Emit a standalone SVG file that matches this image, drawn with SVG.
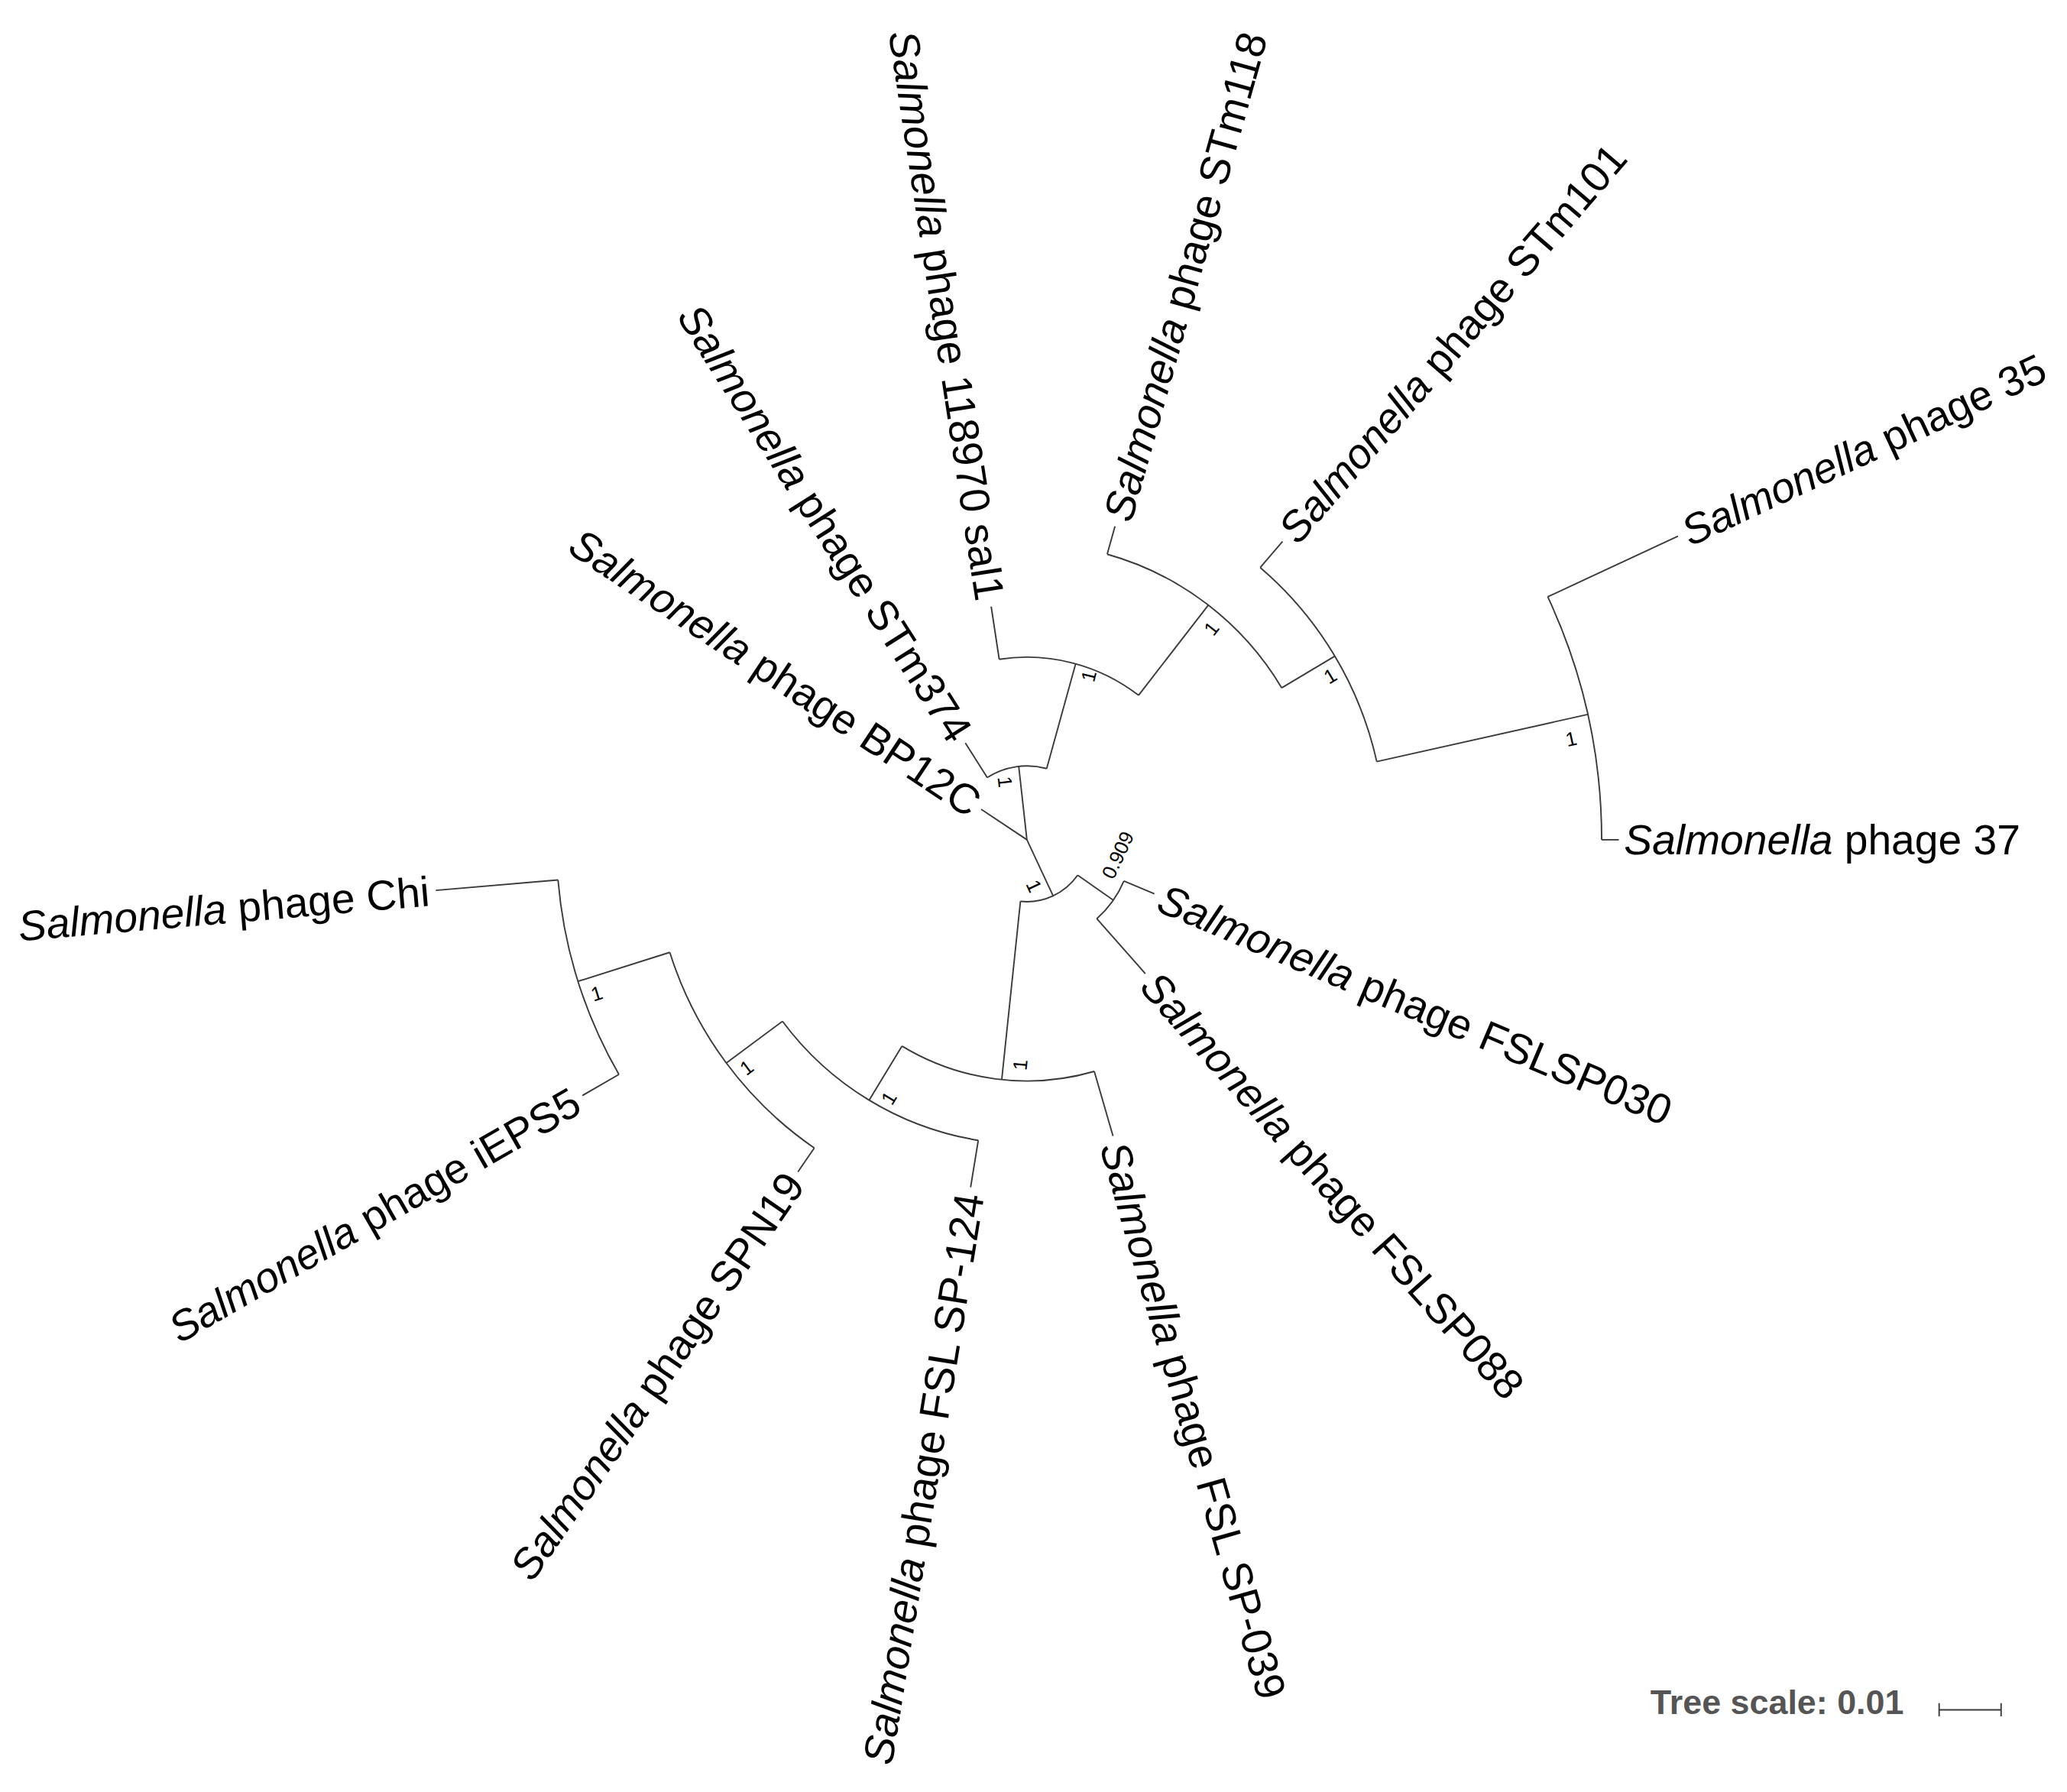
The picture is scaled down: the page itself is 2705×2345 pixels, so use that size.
<svg xmlns="http://www.w3.org/2000/svg" width="2705" height="2345" viewBox="0 0 2705 2345">
<style>
.br{fill:none;stroke:#3a3a3a;stroke-width:1.1}
.lb{font-family:"Liberation Sans",Arial,sans-serif;font-size:32px;fill:#000}
.it{font-style:italic}
.bs{font-family:"Liberation Sans",Arial,sans-serif;font-size:15px;fill:#000}
.sc{font-family:"Liberation Sans",Arial,sans-serif;font-size:26px;font-weight:bold;fill:#555}
</style>
<rect width="2705" height="2345" fill="#fff"/>
<g transform="scale(1.72513)">
<g id="connectors">
<path class="br" d="M817.5,663.9 A47,47 0 0 1 774.1,683.7"/>
<path class="br" d="M798.9,679.6 L779,637"/>
<path class="br" d="M779,637 L772.8,581.3"/>
<path class="br" d="M779,637 L744.3,613.9"/>
<path class="br" d="M748.9,589.8 A56,56 0 0 1 794.0,583.0"/>
<path class="br" d="M748.9,589.8 L732.3,563.6"/>
<path class="br" d="M794.0,583.0 L816.0,503.5"/>
<path class="br" d="M758.0,500.1 A138.5,138.5 0 0 1 863.7,527.4"/>
<path class="br" d="M758.0,500.1 L751.9,460.1"/>
<path class="br" d="M863.7,527.4 L916.6,459.0"/>
<path class="br" d="M839.9,420.4 A225,225 0 0 1 972.3,521.8"/>
<path class="br" d="M839.9,420.4 L845.8,399.2"/>
<path class="br" d="M972.3,521.8 L1012.6,497.7"/>
<path class="br" d="M956.0,430.5 A272,272 0 0 1 1044.4,577.7"/>
<path class="br" d="M956.0,430.5 L972.9,410.7"/>
<path class="br" d="M1044.4,577.7 L1204.5,541.9"/>
<path class="br" d="M1174.1,452.7 A436,436 0 0 1 1215,637"/>
<path class="br" d="M1174.1,452.7 L1272.9,406.7"/>
<path class="br" d="M1215,637 L1228,637"/>
<path class="br" d="M817.5,663.9 L844.6,682.8"/>
<path class="br" d="M852.6,668.3 A80,80 0 0 1 832.0,696.9"/>
<path class="br" d="M852.6,668.3 L875.7,678"/>
<path class="br" d="M832.0,696.9 L868.8,738.5"/>
<path class="br" d="M774.1,683.7 L759.9,819.0"/>
<path class="br" d="M830.1,812.7 A183,183 0 0 1 684.2,793.5"/>
<path class="br" d="M830.1,812.7 L844.3,861.7"/>
<path class="br" d="M684.2,793.5 L659.3,834.6"/>
<path class="br" d="M742.1,865.0 A231,231 0 0 1 593.6,774.7"/>
<path class="br" d="M742.1,865.0 L736.3,900.6"/>
<path class="br" d="M593.6,774.7 L551.0,806.3"/>
<path class="br" d="M617.7,870.8 A284,284 0 0 1 508.1,722.4"/>
<path class="br" d="M617.7,870.8 L605.3,888.9"/>
<path class="br" d="M508.1,722.4 L438.5,744.4"/>
<path class="br" d="M469.5,815.0 A357,357 0 0 1 423.3,667.5"/>
<path class="br" d="M469.5,815.0 L441.8,831.0"/>
<path class="br" d="M423.3,667.5 L330.6,675.4"/>
</g>
<g id="support">
<text class="bs" text-anchor="middle" dy="0.35em" transform="translate(825.9,512.7) rotate(-76)">1</text>
<text class="bs" text-anchor="middle" dy="0.35em" transform="translate(919,476.6) rotate(-52)">1</text>
<text class="bs" text-anchor="middle" dy="0.35em" transform="translate(1009.1,512.7) rotate(-31)">1</text>
<text class="bs" text-anchor="middle" dy="0.35em" transform="translate(1191.8,560.4) rotate(-12.5)">1</text>
<text class="bs" text-anchor="middle" dy="0.35em" transform="translate(762.5,593.1) rotate(83.6)">1</text>
<text class="bs" text-anchor="middle" dy="0.35em" transform="translate(784.5,672.1) rotate(65)">1</text>
<text class="bs" text-anchor="middle" dy="0.35em" transform="translate(847.9,648.6) rotate(-65)">0.909</text>
<text class="bs" text-anchor="middle" dy="0.35em" transform="translate(773.8,807.7) rotate(-84)">1</text>
<text class="bs" text-anchor="middle" dy="0.35em" transform="translate(674.2,832.9) rotate(-59)">1</text>
<text class="bs" text-anchor="middle" dy="0.35em" transform="translate(566.4,809.7) rotate(-37)">1</text>
<text class="bs" text-anchor="middle" dy="0.35em" transform="translate(452.6,753.6) rotate(-17.4)">1</text>
</g>
<g id="leaf-chi"><text class="lb" text-anchor="end" dy="0.35em" transform="translate(325.7,675.9) rotate(-4.9)"><tspan class="it">Salmonella</tspan> phage Chi</text></g>
<g id="leaf-ieps5"><text class="lb" text-anchor="end" dy="0.35em" transform="translate(437.4,833.4) rotate(-29.9)"><tspan class="it">Salmonella</tspan> phage iEPS5</text></g>
<g id="leaf-spn19"><text class="lb" text-anchor="end" dy="0.35em" transform="translate(602.4,893) rotate(-55.4)"><tspan class="it">Salmonella</tspan> phage SPN19</text></g>
<g id="leaf-sp124"><text class="lb" text-anchor="end" dy="0.35em" transform="translate(735.5,905.5) rotate(-80.8)"><tspan class="it">Salmonella</tspan> phage FSL SP-124</text></g>
<g id="leaf-sp039"><text class="lb" dy="0.35em" transform="translate(844.9,866.8) rotate(74)"><tspan class="it">Salmonella</tspan> phage FSL SP-039</text></g>
<g id="leaf-sp088"><text class="lb" dy="0.35em" transform="translate(871.8,741.9) rotate(48.5)"><tspan class="it">Salmonella</tspan> phage FSLSP088</text></g>
<g id="leaf-sp030"><text class="lb" dy="0.35em" transform="translate(880.3,680) rotate(23)"><tspan class="it">Salmonella</tspan> phage FSLSP030</text></g>
<g id="leaf-37"><text class="lb" dy="0.35em" transform="translate(1232,637)"><tspan class="it">Salmonella</tspan> phage 37</text></g>
<g id="leaf-35"><text class="lb" dy="0.35em" transform="translate(1277.5,404.6) rotate(-25)"><tspan class="it">Salmonella</tspan> phage 35</text></g>
<g id="leaf-stm101"><text class="lb" dy="0.35em" transform="translate(976.2,406.9) rotate(-49.4)"><tspan class="it">Salmonella</tspan> phage STm101</text></g>
<g id="leaf-stm118"><text class="lb" dy="0.35em" transform="translate(847.2,394.4) rotate(-74.3)"><tspan class="it">Salmonella</tspan> phage STm118</text></g>
<g id="leaf-sal1"><text class="lb" text-anchor="end" dy="0.35em" transform="translate(751.2,455.1) rotate(81.3)"><tspan class="it">Salmonella</tspan> phage 118970 sal1</text></g>
<g id="leaf-stm374"><text class="lb" text-anchor="end" dy="0.35em" transform="translate(729.6,559.4) rotate(57.5)"><tspan class="it">Salmonella</tspan> phage STm374</text></g>
<g id="leaf-bp12c"><text class="lb" text-anchor="end" dy="0.35em" transform="translate(740.7,611.5) rotate(33.6)"><tspan class="it">Salmonella</tspan> phage BP12C</text></g>
<g id="scale">
<text class="sc" x="1252" y="1300">Tree scale: 0.01</text>
<path class="br" d="M1471,1297 H1518 M1471,1292 V1302 M1518,1292 V1302"/>
</g>
</g>
</svg>
